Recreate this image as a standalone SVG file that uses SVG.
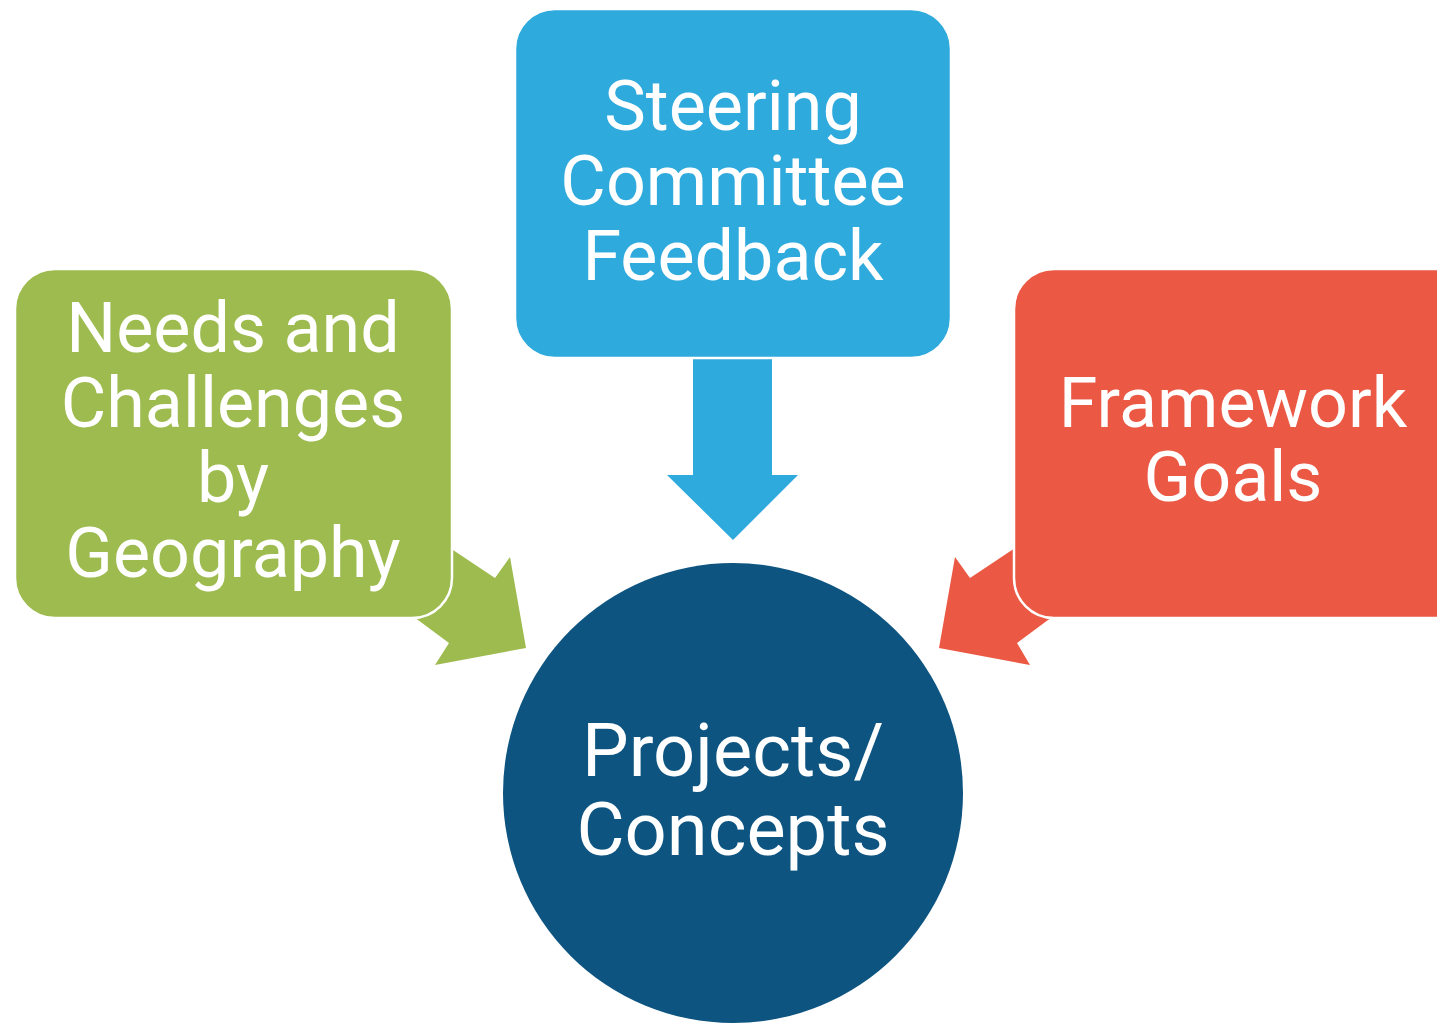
<svg xmlns="http://www.w3.org/2000/svg" width="1437" height="1023" viewBox="0 0 1437 1023">
<style>
.lbl{font-family:Roboto,"Liberation Sans",sans-serif;fill:#fff;text-anchor:middle;font-size:70px}
.big{font-size:74px}
.box{stroke:#fff;stroke-width:2.5}
</style>
<rect width="1437" height="1023" fill="#fff"/>
<g id="connectors">
<polygon fill="#9DBB4E" points="370,495 453,550 495,578 510,557 526,648 435,665 449,643 418,620 335,565"/>
<polygon fill="#EB5844" points="1095,495 1012,550 970,578 955,557 939,648 1030,665 1017,643 1048,620 1131,565"/>
<polygon fill="#2FAADD" points="693,340 772,340 772,475 798,475 733,540 667,475 693,475"/>
</g>
<g id="needs">
<rect class="box" x="15" y="269" width="437" height="349" rx="40" fill="#9DBB4E"/>
<text class="lbl" x="233" y="352">Needs and</text>
<text class="lbl" x="233" y="427">Challenges</text>
<text class="lbl" x="233" y="502">by</text>
<text class="lbl" x="233" y="577">Geography</text>
</g>
<g id="steering">
<rect class="box" x="515" y="9" width="436" height="349" rx="40" fill="#2FAADD"/>
<text class="lbl" x="733" y="130">Steering</text>
<text class="lbl" x="733" y="205">Committee</text>
<text class="lbl" x="733" y="280">Feedback</text>
</g>
<g id="framework">
<rect class="box" x="1014" y="269" width="460" height="349" rx="40" fill="#EB5844"/>
<text class="lbl" x="1233" y="427">Framework</text>
<text class="lbl" x="1233" y="501">Goals</text>
</g>
<g id="projects">
<circle cx="733" cy="793" r="230" fill="#0D5480"/>
<text class="lbl big" x="733" y="776">Projects/</text>
<text class="lbl big" x="733" y="855">Concepts</text>
</g>
</svg>
